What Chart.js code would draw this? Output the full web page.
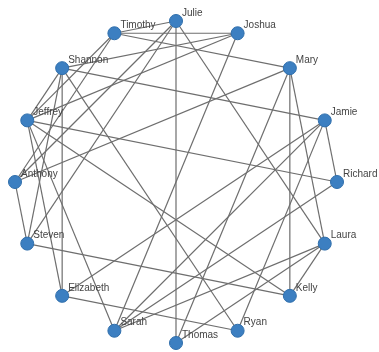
<!DOCTYPE html>
<html>
<head>
<meta charset="utf-8">
<script src="https://cdn.jsdelivr.net/npm/chart.js@4.4.1/dist/chart.umd.min.js"></script>
<style>
  html, body { margin: 0; padding: 0; background: #fff; }
  #wrap { width: 379px; height: 352px; }
</style>
</head>
<body>
<div id="wrap"><canvas id="chart" width="379" height="352"></canvas></div>
<script>
// nodes, clockwise from the top
const nodeNames = ["Julie", "Joshua", "Mary", "Jamie", "Richard", "Laura", "Kelly", "Ryan",
                   "Thomas", "Sarah", "Elizabeth", "Steven", "Anthony", "Jeffrey", "Shannon", "Timothy"];

// links (source / target by name)
const edgeFrom = ["Julie", "Julie", "Julie", "Julie", "Julie",
                  "Timothy", "Timothy", "Timothy", "Timothy",
                  "Joshua", "Joshua", "Joshua",
                  "Shannon", "Shannon", "Shannon", "Shannon", "Shannon",
                  "Mary", "Mary", "Mary", "Mary",
                  "Jamie", "Jamie", "Jamie", "Jamie",
                  "Richard", "Richard",
                  "Laura", "Laura", "Laura",
                  "Kelly", "Kelly",
                  "Elizabeth", "Elizabeth", "Sarah", "Anthony"];
const edgeTo   = ["Thomas", "Timothy", "Anthony", "Steven", "Laura",
                  "Joshua", "Mary", "Jeffrey", "Anthony",
                  "Shannon", "Jeffrey", "Sarah",
                  "Elizabeth", "Jamie", "Ryan", "Jeffrey", "Steven",
                  "Kelly", "Laura", "Anthony", "Thomas",
                  "Richard", "Ryan", "Sarah", "Elizabeth",
                  "Jeffrey", "Sarah",
                  "Kelly", "Thomas", "Sarah",
                  "Steven", "Jeffrey",
                  "Ryan", "Jeffrey", "Jeffrey", "Steven"];

// circular layout
function nodePos(name){
    const i = nodeNames.indexOf(name);
    const a = -Math.PI / 2 + i * 2 * Math.PI / nodeNames.length;
    return { x: Math.cos(a), y: -Math.sin(a), name: name };
}

const nodes = nodeNames.map(nodePos);

const edgeSets = edgeFrom.map((s, i) => ({
    data: [nodePos(s), nodePos(edgeTo[i])],
    showLine: true,
    borderColor: "#6e6e6e",
    borderWidth: 1.2,
    pointRadius: 0,
    pointHoverRadius: 0,
    clip: false,
    order: 2
}));

// node labels drawn next to each point
const labelPlugin = {
    id: "nodeLabels",
    afterDatasetsDraw(chart){
        const c = chart.ctx;
        const meta = chart.getDatasetMeta(0);
        c.save();
        c.font = "10px 'Liberation Sans', Arial, sans-serif";
        c.fillStyle = "#444";
        c.textAlign = "left";
        c.textBaseline = "middle";
        meta.data.forEach((p, i) => {
            c.fillText(nodes[i].name, p.x + 6, p.y - 8);
        });
        c.restore();
    }
};

const ctx = document.querySelector("#chart");

const chart = new Chart(ctx, {
    type: "scatter",
    data: {
        datasets: [{
            data: nodes,
            backgroundColor: "#3c7fc1",
            borderColor: "#2f6eab",
            borderWidth: 1,
            pointRadius: 6.5,
            pointHoverRadius: 6.5,
            clip: false,
            order: 0
        }].concat(edgeSets)
    },
    options: {
        responsive: false,
        animation: false,
        layout: { padding: { left: 15, right: 42, top: 21, bottom: 9 } },
        scales: {
            x: { type: "linear", min: -1, max: 1, display: false },
            y: { type: "linear", min: -1, max: 1, display: false }
        },
        plugins: {
            legend: { display: false },
            tooltip: { enabled: false }
        }
    },
    plugins: [labelPlugin]
});
</script>
</body>
</html>
